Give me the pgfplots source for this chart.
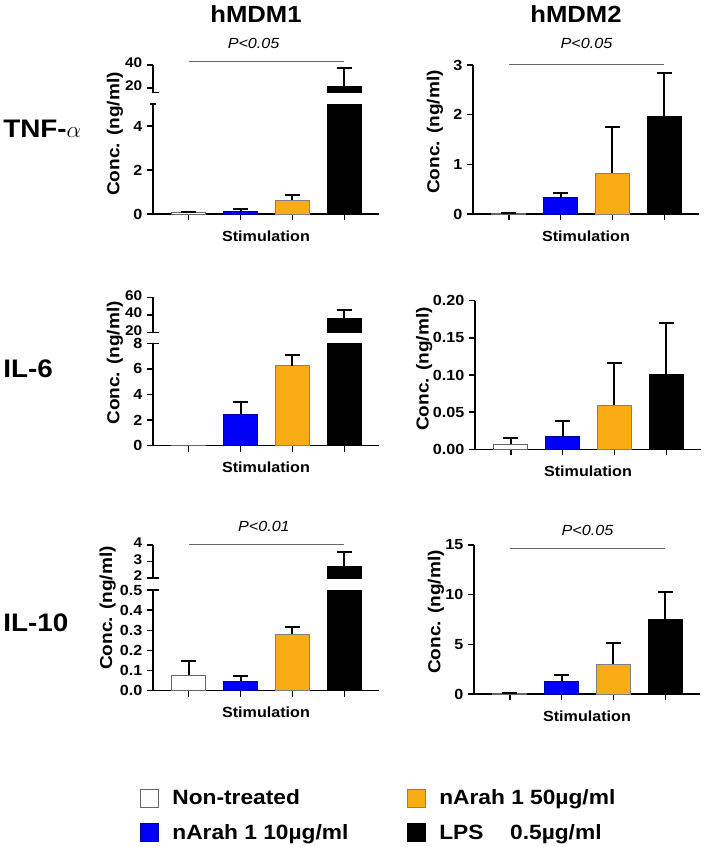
\documentclass[border=0pt]{standalone}
\usepackage{fontspec}
\setmainfont{Liberation Sans}[FakeStretch=1.1]
\usepackage{pgfplots}
\pgfplotsset{compat=1.18}
\definecolor{myorange}{RGB}{250,172,20}
\definecolor{myblue}{RGB}{0,0,250}
\tikzset{ptext/.style={font=\itshape\fontsize{11}{12}\selectfont}}
\pgfplotsset{
  base/.style={
    scale only axis, anchor=south west, width=169.5pt,
    xmin=-0.69, xmax=3.67,
    ybar, bar width=0.66, bar shift=0pt,
    clip mode=individual,
    axis line style={line width=1.1pt,-},
    tick style={line width=1.1pt,black},
    major tick length=4.5pt,
    tick align=outside,
    /pgf/number format/assume math mode=true,
    tick label style={font=\bfseries\fontsize{11}{12}\selectfont},
    y tick label style={inner ysep=0pt},
    scaled y ticks=false,
    error bars/y dir=plus, error bars/y explicit,
    error bars/error bar style={line width=1.5pt,black},
    error bars/error mark options={rotate=90,mark size=5.5pt,line width=1.5pt,black},
  },
  lower/.style={base, axis x line*=bottom, axis y line*=left,
    xtick={0,1,2,3}, xticklabels={},
    xlabel={Stimulation},
    xlabel style={at={(axis description cs:0.5,0)},anchor=center,yshift=-16.5pt,font=\bfseries\fontsize{11}{12}\selectfont},
    ylabel={Conc. (ng/ml)},
    ylabel style={anchor=center,font=\bfseries\fontsize{13}{14}\selectfont},
  },
  upper/.style={base, axis x line=none, axis y line*=left,
    y tick label style={font=\bfseries\fontsize{10.5}{11}\selectfont, yshift=1.5pt},
    extra y tick labels={}, extra y tick style={tick align=inside}},
  nt/.style={ybar, bar width=0.66, bar shift=0pt, fill=white, draw=black!60, line width=0.6pt},
  bl/.style={ybar, bar width=0.66, bar shift=0pt, fill=myblue, draw=myblue!60!black, line width=0.6pt},
  og/.style={ybar, bar width=0.66, bar shift=0pt, fill=myorange, draw=black!50, line width=0.6pt},
  bk/.style={ybar, bar width=0.66, bar shift=0pt, fill=black, draw=black, line width=0.6pt},
}
\begin{document}
\begin{tikzpicture}
\path[use as bounding box] (0,0) rectangle (529.5pt,-635.25pt);

% titles
\node[font=\bfseries\fontsize{17.5}{18}\selectfont] at (192pt,-10.5pt) {hMDM1};
\node[font=\bfseries\fontsize{17.5}{18}\selectfont] at (432pt,-10.5pt) {hMDM2};
\node[font=\bfseries\fontsize{19}{20}\selectfont, anchor=west, inner sep=0pt] at (2.25pt,-96.75pt) {TNF-$\alpha$};
\node[font=\bfseries\fontsize{19}{20}\selectfont, anchor=west, inner sep=0pt] at (2.25pt,-276.75pt) {IL-6};
\node[font=\bfseries\fontsize{19}{20}\selectfont, anchor=west, inner sep=0pt] at (2.25pt,-467.25pt) {IL-10};

% ===== Panel 1: TNF hMDM1 (broken axis) =====
\begin{axis}[lower, at={(114.75pt,-160.5pt)}, height=82.5pt,
  ymin=0, ymax=5, ytick={0,2,4},
  extra y ticks={5}, extra y tick labels={}, extra y tick style={tick align=center},
  ylabel style={at={(axis description cs:-0.168,0.727)}}]
\addplot[nt] coordinates {(0,0.06) +- (0,0.02)};
\addplot[bl] coordinates {(1,0.12) +- (0,0.11)};
\addplot[og] coordinates {(2,0.62) +- (0,0.26)};
\addplot[bk] coordinates {(3,21.4)};
\end{axis}
\begin{axis}[upper, at={(114.75pt,-69.53pt)}, height=20.78pt,
  ymin=16, ymax=40, ytick={20,40}, extra y ticks={16}]
\addplot[bk] coordinates {(3,21.4) +- (0,15.8)};
\draw[black!60, line width=0.6pt] (axis cs:0,43.4) -- (axis cs:3,43.4);
\node[ptext] at (axis cs:1.25,43.4) [yshift=13.5pt] {P<0.05};
\end{axis}

% ===== Panel 2: TNF hMDM2 =====
\begin{axis}[lower, at={(354.75pt,-160.5pt)}, height=111.75pt,
  ymin=0, ymax=3, ytick={0,1,2,3},
  ylabel style={at={(axis description cs:-0.169,0.55)}}]
\addplot[nt] coordinates {(0,0.02) +- (0,0.005)};
\addplot[bl] coordinates {(1,0.34) +- (0,0.08)};
\addplot[og] coordinates {(2,0.82) +- (0,0.94)};
\addplot[bk] coordinates {(3,1.96) +- (0,0.87)};
\draw[black!60, line width=0.6pt] (axis cs:0,3.014) -- (axis cs:3,3.014);
\node[ptext] at (axis cs:1.5,3.014) [yshift=15.75pt] {P<0.05};
\end{axis}

% ===== Panel 3: IL-6 hMDM1 (broken axis) =====
\begin{axis}[lower, at={(114.75pt,-334.28pt)}, height=76.8pt,
  ymin=0, ymax=8, ytick={0,2,4,6,8},
  extra y ticks={8}, extra y tick labels={}, extra y tick style={tick align=inside},
  ylabel style={at={(axis description cs:-0.168,0.808)}}]
\addplot[nt] coordinates {(0,0.02)};
\addplot[bl] coordinates {(1,2.45) +- (0,0.96)};
\addplot[og] coordinates {(2,6.25) +- (0,0.84)};
\addplot[bk] coordinates {(3,36)};
\end{axis}
\begin{axis}[upper, at={(114.75pt,-249.23pt)}, height=26.25pt,
  ymin=20, ymax=60, ytick={20,40,60}, extra y ticks={20}]
\addplot[bk] coordinates {(3,36) +- (0,9.7)};
\end{axis}

% ===== Panel 4: IL-6 hMDM2 =====
\begin{axis}[lower, at={(356.25pt,-336.98pt)}, height=111.45pt,
  ymin=0, ymax=0.2, ytick={0,0.05,0.1,0.15,0.2},
  y tick label style={/pgf/number format/.cd, fixed, fixed zerofill, precision=2},
  ylabel style={at={(axis description cs:-0.225,0.54)}}]
\addplot[nt] coordinates {(0,0.0072) +- (0,0.0078)};
\addplot[bl] coordinates {(1,0.018) +- (0,0.0205)};
\addplot[og] coordinates {(2,0.059) +- (0,0.0576)};
\addplot[bk] coordinates {(3,0.101) +- (0,0.069)};
\end{axis}

% ===== Panel 5: IL-10 hMDM1 (broken axis) =====
\begin{axis}[lower, at={(114.75pt,-518.03pt)}, height=75.53pt,
  ymin=0, ymax=0.5, ytick={0,0.1,0.2,0.3,0.4,0.5},
  y tick label style={/pgf/number format/.cd, fixed, fixed zerofill, precision=1},
  extra y ticks={0.5}, extra y tick labels={}, extra y tick style={tick align=inside},
  ylabel style={at={(axis description cs:-0.2,0.821)}}]
\addplot[nt] coordinates {(0,0.076) +- (0,0.07)};
\addplot[bl] coordinates {(1,0.047) +- (0,0.025)};
\addplot[og] coordinates {(2,0.28) +- (0,0.038)};
\addplot[bk] coordinates {(3,2.7)};
\end{axis}
\begin{axis}[upper, at={(114.75pt,-433.5pt)}, height=24.75pt,
  ymin=2, ymax=4, ytick={2,3,4}, extra y ticks={2}]
\addplot[bk] coordinates {(3,2.7) +- (0,0.9)};
\draw[black!60, line width=0.6pt] (axis cs:0,4.04) -- (axis cs:3,4.04);
\node[ptext] at (axis cs:1.45,4.04) [yshift=13.5pt] {P<0.01};
\end{axis}

% ===== Panel 6: IL-10 hMDM2 =====
\begin{axis}[lower, at={(355.5pt,-520.5pt)}, height=111.75pt,
  ymin=0, ymax=15, ytick={0,5,10,15},
  ylabel style={at={(axis description cs:-0.169,0.55)}}]
\addplot[nt] coordinates {(0,0.1) +- (0,0.05)};
\addplot[bl] coordinates {(1,1.24) +- (0,0.64)};
\addplot[og] coordinates {(2,3.02) +- (0,2.08)};
\addplot[bk] coordinates {(3,7.55) +- (0,2.75)};
\draw[black!60, line width=0.6pt] (axis cs:0,14.67) -- (axis cs:3,14.67);
\node[ptext] at (axis cs:1.5,14.67) [yshift=13.5pt] {P<0.05};
\end{axis}

% ===== Legend =====
\begin{axis}[hide axis, scale only axis, width=529.5pt, height=635.25pt,
  at={(0pt,0pt)}, anchor=north west, xmin=0, xmax=1, ymin=0, ymax=1,
  legend columns=2,
  legend image code/.code={\draw[#1, line width=0.6pt] (0pt,-6.75pt) rectangle (13.5pt,6.75pt);},
  legend cell align=left,
  legend style={draw=none, fill=none, at={(axis description cs:0.1983,0.0708)}, anchor=north west,
    inner sep=0pt, row sep=9pt,
    font=\bfseries\fontsize{15.5}{16}\selectfont,
    /tikz/every odd column/.append style={column sep=8pt},
    /tikz/every even column/.append style={column sep=42pt}}]
\addlegendimage{fill=white, draw=black!60}
\addlegendentry{Non-treated}
\addlegendimage{fill=myorange, draw=black!50}
\addlegendentry{nArah 1 50µg/ml}
\addlegendimage{fill=myblue, draw=myblue!60!black}
\addlegendentry{nArah 1 10µg/ml}
\addlegendimage{fill=black, draw=black}
\addlegendentry{LPS\hspace{20pt}0.5µg/ml}
\end{axis}
\end{tikzpicture}
\end{document}
